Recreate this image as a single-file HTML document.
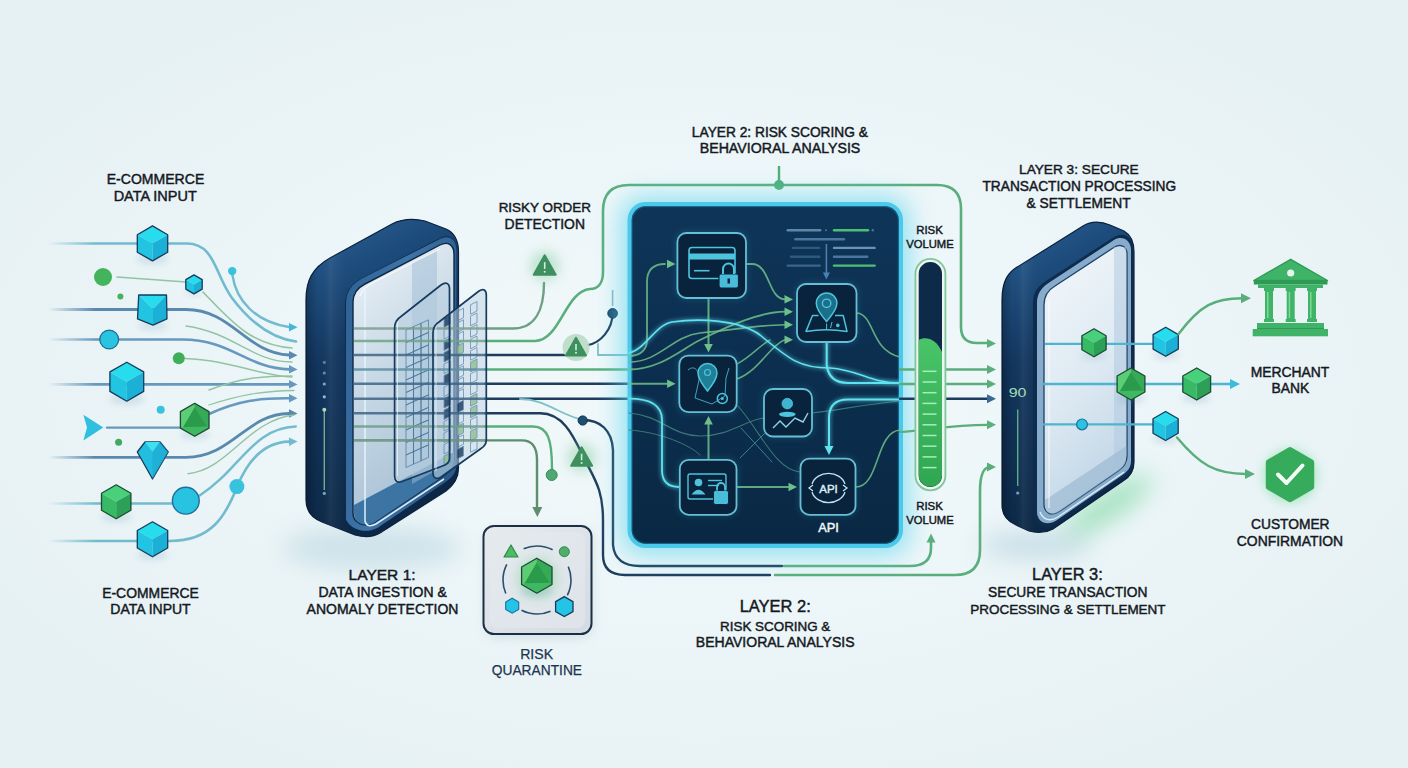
<!DOCTYPE html>
<html><head><meta charset="utf-8"><title>Fraud Prevention Layers</title>
<style>html,body{margin:0;padding:0;width:1408px;height:768px;overflow:hidden;background:#eaf2f5;font-family:"Liberation Sans",sans-serif}svg{display:block}</style>
</head><body><svg width="1408" height="768" viewBox="0 0 1408 768" font-family="Liberation Sans, sans-serif"><defs>
<radialGradient id="bg" cx="0.5" cy="0.5" r="0.6">
  <stop offset="0" stop-color="#f1f8fa"/><stop offset="0.45" stop-color="#edf6f8"/><stop offset="1" stop-color="#e6f1f4"/>
</radialGradient>
<filter id="blur3" x="-50%" y="-50%" width="200%" height="200%"><feGaussianBlur stdDeviation="3"/></filter>
<filter id="blur6" x="-100%" y="-100%" width="300%" height="300%"><feGaussianBlur stdDeviation="6"/></filter>
<filter id="blur12" x="-100%" y="-300%" width="300%" height="700%"><feGaussianBlur stdDeviation="12"/></filter>
<filter id="glow" x="-50%" y="-50%" width="200%" height="200%"><feGaussianBlur stdDeviation="2.2" result="b"/><feMerge><feMergeNode in="b"/><feMergeNode in="SourceGraphic"/></feMerge></filter>
<linearGradient id="fadeG" gradientUnits="userSpaceOnUse" x1="48" y1="0" x2="95" y2="0"><stop offset="0" stop-color="#fff" stop-opacity="0"/><stop offset="1" stop-color="#fff" stop-opacity="1"/></linearGradient>
<mask id="fadeL" maskUnits="userSpaceOnUse" x="0" y="0" width="1408" height="768"><rect x="0" y="0" width="1408" height="768" fill="url(#fadeG)"/></mask>
<linearGradient id="body1" x1="0" y1="0" x2="0.25" y2="1">
  <stop offset="0" stop-color="#2c6398"/><stop offset="0.22" stop-color="#1d4c7c"/><stop offset="0.45" stop-color="#12365f"/><stop offset="1" stop-color="#0c2846"/>
</linearGradient>
<linearGradient id="bodyH" x1="0" y1="0" x2="1" y2="0">
  <stop offset="0" stop-color="#000" stop-opacity="0.25"/><stop offset="0.08" stop-color="#000" stop-opacity="0"/><stop offset="0.16" stop-color="#fff" stop-opacity="0.06"/><stop offset="0.3" stop-color="#000" stop-opacity="0"/><stop offset="1" stop-color="#000" stop-opacity="0"/>
</linearGradient>
<linearGradient id="panelF" x1="0" y1="0" x2="0" y2="1">
  <stop offset="0" stop-color="#0e3558"/><stop offset="0.45" stop-color="#0c2f50"/><stop offset="1" stop-color="#092843"/>
</linearGradient>
<linearGradient id="rim1" x1="0" y1="0" x2="1" y2="0.4"><stop offset="0" stop-color="#2d5f92"/><stop offset="0.5" stop-color="#3f74a8"/><stop offset="1" stop-color="#2a5a8a"/></linearGradient>
<linearGradient id="glass1" x1="0" y1="0" x2="0.3" y2="1">
  <stop offset="0" stop-color="#eef4f9"/><stop offset="0.45" stop-color="#cbdbe7"/><stop offset="1" stop-color="#a9c2d6"/>
</linearGradient>
<linearGradient id="glass3" x1="0" y1="0" x2="0.3" y2="1">
  <stop offset="0" stop-color="#f3f8fb"/><stop offset="0.6" stop-color="#dde9f2"/><stop offset="1" stop-color="#c3d7e7"/>
</linearGradient>
<linearGradient id="pane" x1="0" y1="0" x2="1" y2="1">
  <stop offset="0" stop-color="#dbe8f2" stop-opacity="0.85"/><stop offset="1" stop-color="#a9c3d8" stop-opacity="0.8"/>
</linearGradient>
<linearGradient id="barfill" x1="0" y1="0" x2="0" y2="1">
  <stop offset="0" stop-color="#49c468"/><stop offset="1" stop-color="#2fa752"/>
</linearGradient>
<linearGradient id="quar" x1="0" y1="0" x2="1" y2="1">
  <stop offset="0" stop-color="#e6ebef"/><stop offset="1" stop-color="#d3dae1"/>
</linearGradient>
</defs><rect width="1408" height="768" fill="url(#bg)"/><g mask="url(#fadeL)"><path d="M50 243.5 H187 C215 243.5 215 275 232 298 C250 322 270 338 296 341.5" stroke="#72bbcf" stroke-width="2.6" fill="none" stroke-linecap="round" stroke-linejoin="round" /><path d="M232.4 275 C236 300 255 322 289 327" stroke="#72bbcf" stroke-width="2.4" fill="none" stroke-linecap="round" stroke-linejoin="round" /><polygon points="297.5,327.2 289.0,322.9 289.0,331.4" fill="#45b6d3"/><path d="M117 277 L186 282" stroke="#92c3a2" stroke-width="1.6" fill="none" stroke-linecap="round" stroke-linejoin="round" /><path d="M203 292 C230 320 250 345 292 348" stroke="#92c3a2" stroke-width="1.6" fill="none" stroke-linecap="round" stroke-linejoin="round" /><path d="M50 309.5 H186 C232 309.5 246 353 289 355" stroke="#5a89ae" stroke-width="2.8" fill="none" stroke-linecap="round" stroke-linejoin="round" /><polygon points="297.5,355.2 289.0,350.9 289.0,359.4" fill="#5a89ae"/><path d="M186 326 C235 333 252 362 292 362" stroke="#92c3a2" stroke-width="1.4" fill="none" stroke-linecap="round" stroke-linejoin="round" /><path d="M50 339.5 H182 C232 339.5 246 368 289 369.4" stroke="#6699bd" stroke-width="2.6" fill="none" stroke-linecap="round" stroke-linejoin="round" /><polygon points="297.5,369.4 289.0,365.1 289.0,373.6" fill="#6699bd"/><path d="M185 358.5 C228 360 262 376 292 377" stroke="#92c3a2" stroke-width="1.5" fill="none" stroke-linecap="round" stroke-linejoin="round" /><path d="M50 384.4 H289" stroke="#6699bd" stroke-width="2.8" fill="none" stroke-linecap="round" stroke-linejoin="round" /><polygon points="297.5,384.4 289.0,380.1 289.0,388.6" fill="#6699bd"/><path d="M209 390 C240 378 262 376 292 376" stroke="#92c3a2" stroke-width="1.4" fill="none" stroke-linecap="round" stroke-linejoin="round" /><path d="M209 414 C240 400 262 398 289 398.3" stroke="#6699bd" stroke-width="2.6" fill="none" stroke-linecap="round" stroke-linejoin="round" /><polygon points="297.5,398.3 289.0,394.1 289.0,402.6" fill="#6699bd"/><path d="M209 405 C240 395 262 391 294 390.5" stroke="#92c3a2" stroke-width="1.3" fill="none" stroke-linecap="round" stroke-linejoin="round" /><path d="M107 427.6 H180" stroke="#6699bd" stroke-width="2.4" fill="none" stroke-linecap="round" stroke-linejoin="round" /><path d="M50 457.3 H186 C232 457.3 246 414 289 413.5" stroke="#5a89ae" stroke-width="2.8" fill="none" stroke-linecap="round" stroke-linejoin="round" /><polygon points="297.5,413.5 289.0,409.2 289.0,417.8" fill="#5a89ae"/><path d="M188 473.7 C228 470 248 420 294 415" stroke="#92c3a2" stroke-width="1.4" fill="none" stroke-linecap="round" stroke-linejoin="round" /><path d="M199 496 C240 470 252 428 295.8 426.5" stroke="#72bbcf" stroke-width="2.4" fill="none" stroke-linecap="round" stroke-linejoin="round" /><path d="M50 503.5 H172" stroke="#72bbcf" stroke-width="2.4" fill="none" stroke-linecap="round" stroke-linejoin="round" /><path d="M170 541 C212 541 226 515 237 487 C250 455 268 442 289 441.6" stroke="#72bbcf" stroke-width="2.6" fill="none" stroke-linecap="round" stroke-linejoin="round" /><polygon points="297.5,441.6 289.0,437.4 289.0,445.9" fill="#72bbcf"/><path d="M50 541 H170" stroke="#72bbcf" stroke-width="2.4" fill="none" stroke-linecap="round" stroke-linejoin="round" /></g><circle cx="103" cy="277" r="9" fill="#43b35c" /><circle cx="120.4" cy="296.6" r="3" fill="#43b35c" /><circle cx="232.2" cy="271.1" r="4.2" fill="#39c2de" /><circle cx="178.8" cy="358.2" r="6" fill="#3fae58" /><circle cx="109.2" cy="339.5" r="9.4" fill="#2ac4e0" stroke="#1f6f96" stroke-width="1.3" /><circle cx="160.7" cy="409.8" r="4" fill="#39c2de" /><circle cx="118.6" cy="442.3" r="3.5" fill="#43a860" /><circle cx="185.8" cy="500.7" r="13.4" fill="#27c3e0" stroke="#1f6f96" stroke-width="1.4" /><circle cx="236.9" cy="486.6" r="7.5" fill="#39c2de" /><polygon points="83.4,414.7 103.3,427.5 83.4,440.4 87,427.5" fill="#2ec0de"/><ellipse cx="152.5" cy="259.15" rx="15.75" ry="5.25" fill="#5a8fb0" opacity="0.18" filter="url(#blur3)"/><polygon points="152.5,225.9 167.7,234.7 152.5,243.4 137.3,234.7" fill="#27dced"/><polygon points="137.3,234.7 152.5,243.4 152.5,260.9 137.3,252.2" fill="#21c4e1"/><polygon points="152.5,243.4 167.7,234.7 167.7,252.2 152.5,260.9" fill="#1cb0d6"/><polygon points="152.5,225.9 167.7,234.7 167.7,252.2 152.5,260.9 137.3,252.2 137.3,234.7" fill="none" stroke="#173b5c" stroke-width="1.3" stroke-linejoin="round"/><ellipse cx="194" cy="292.95" rx="8.55" ry="2.85" fill="#5a8fb0" opacity="0.18" filter="url(#blur3)"/><polygon points="194.0,274.9 202.2,279.6 194.0,284.4 185.8,279.6" fill="#27dced"/><polygon points="185.8,279.6 194.0,284.4 194.0,293.9 185.8,289.1" fill="#21c4e1"/><polygon points="194.0,284.4 202.2,279.6 202.2,289.1 194.0,293.9" fill="#1cb0d6"/><polygon points="194.0,274.9 202.2,279.6 202.2,289.1 194.0,293.9 185.8,289.1 185.8,279.6" fill="none" stroke="#173b5c" stroke-width="1.3" stroke-linejoin="round"/><ellipse cx="152.5" cy="326" rx="15" ry="4.5" fill="#5a8fb0" opacity="0.18" filter="url(#blur3)"/><polygon points="138.7,295 166.5,295 153,309 " fill="#27dced"/><polygon points="138.7,295 153,309 153,325.2 137.5,318.8" fill="#21c4e1"/><polygon points="166.5,295 167,318.8 153,325.2 153,309" fill="#1cb0d6"/><polygon points="138.7,295 166.5,295 167,318.8 153,325.2 137.5,318.8" fill="none" stroke="#173b5c" stroke-width="1.3" stroke-linejoin="round"/><ellipse cx="126.8" cy="399.25" rx="17.55" ry="5.85" fill="#5a8fb0" opacity="0.18" filter="url(#blur3)"/><polygon points="126.8,362.2 143.7,371.9 126.8,381.7 109.9,371.9" fill="#27dced"/><polygon points="109.9,371.9 126.8,381.7 126.8,401.2 109.9,391.4" fill="#21c4e1"/><polygon points="126.8,381.7 143.7,371.9 143.7,391.4 126.8,401.2" fill="#1cb0d6"/><polygon points="126.8,362.2 143.7,371.9 143.7,391.4 126.8,401.2 109.9,391.4 109.9,371.9" fill="none" stroke="#173b5c" stroke-width="1.3" stroke-linejoin="round"/><ellipse cx="194.7" cy="434.65000000000003" rx="14.85" ry="4.95" fill="#5a8fb0" opacity="0.18" filter="url(#blur3)"/><polygon points="194.7,403.3 209.0,411.6 209.0,428.1 194.7,436.3 180.4,428.1 180.4,411.6" fill="#40b862"/><polygon points="194.7,403.3 194.7,407.6 183.3,426.9 180.4,428.1 180.4,411.6" fill="#5ccd74"/><polygon points="194.7,403.3 209.0,411.6 209.0,428.1 206.9,426.4 194.7,407.6" fill="#36aa57"/><polygon points="194.7,407.6 206.9,426.4 183.3,426.9" fill="#2a9a4b"/><polygon points="194.7,403.3 209.0,411.6 209.0,428.1 194.7,436.3 180.4,428.1 180.4,411.6" fill="none" stroke="#1d4a35" stroke-width="1.3" stroke-linejoin="round"/><polygon points="137.3,452 145,442 160,442 168.2,452 152.5,479" fill="#23bedf" stroke="#173b5c" stroke-width="1.3" stroke-linejoin="round"/><polygon points="145,442 160,442 152.5,452" fill="#3fe0ee"/><polygon points="152.5,452 160,442 168.2,452 152.5,479" fill="#1aa6cf" opacity="0.6"/><ellipse cx="116.2" cy="517.1" rx="15.3" ry="5.1" fill="#5a8fb0" opacity="0.18" filter="url(#blur3)"/><polygon points="116.2,484.8 130.9,493.3 116.2,501.8 101.5,493.3" fill="#48d07a"/><polygon points="101.5,493.3 116.2,501.8 116.2,518.8 101.5,510.3" fill="#38ba64"/><polygon points="116.2,501.8 130.9,493.3 130.9,510.3 116.2,518.8" fill="#2ca056"/><polygon points="116.2,484.8 130.9,493.3 130.9,510.3 116.2,518.8 101.5,510.3 101.5,493.3" fill="none" stroke="#1d4a35" stroke-width="1.3" stroke-linejoin="round"/><ellipse cx="152.5" cy="555.05" rx="15.75" ry="5.25" fill="#5a8fb0" opacity="0.18" filter="url(#blur3)"/><polygon points="152.5,521.8 167.7,530.5 152.5,539.3 137.3,530.5" fill="#27dced"/><polygon points="137.3,530.5 152.5,539.3 152.5,556.8 137.3,548.0" fill="#21c4e1"/><polygon points="152.5,539.3 167.7,530.5 167.7,548.0 152.5,556.8" fill="#1cb0d6"/><polygon points="152.5,521.8 167.7,530.5 167.7,548.0 152.5,556.8 137.3,548.0 137.3,530.5" fill="none" stroke="#173b5c" stroke-width="1.3" stroke-linejoin="round"/><text x="155.5" y="184.1" font-size="14.05" fill="#15191f" stroke="#15191f" stroke-width="0.45" text-anchor="middle" >E-COMMERCE</text><text x="155.2" y="201" font-size="14.48" fill="#15191f" stroke="#15191f" stroke-width="0.45" text-anchor="middle" >DATA INPUT</text><text x="150.5" y="598" font-size="13.92" fill="#15191f" stroke="#15191f" stroke-width="0.45" text-anchor="middle" >E-COMMERCE</text><text x="150.5" y="614.4" font-size="14.0" fill="#15191f" stroke="#15191f" stroke-width="0.45" text-anchor="middle" >DATA INPUT</text><ellipse cx="372" cy="548" rx="90" ry="22" fill="#8ab8cc" opacity="0.3" filter="url(#blur12)"/><path d="M306 300 C306 281 312 268 330 258 L392 224 C402 219 412 218 425 221 L446 229 C455 233 458.5 240 458.5 252 L458.5 468 C458.5 478 454 485 446 491 L380 533 C372 538 363 537 355 535 L322 522 C312 518 306 511 306 500 Z" fill="url(#body1)" stroke="#0a2140" stroke-width="1.2"/><path d="M306 300 C306 281 312 268 330 258 L392 224 C402 219 412 218 425 221 L446 229 C455 233 458.5 240 458.5 252 L458.5 468 C458.5 478 454 485 446 491 L380 533 C372 538 363 537 355 535 L322 522 C312 518 306 511 306 500 Z" fill="url(#bodyH)"/><path d="M345 305 C345 291 351 284 362 278 L440 238 C450 233 457 239 457 251 L457 464 C457 472 453 477 446 482 L378 528 C366 535 350 531 345 520 Z" fill="#0f2c4e"/><path d="M346 304 C346 291 352 284 362 278.5 L440 239 C450 234 456.5 240 456.5 251 L456.5 464 C456.5 472 452.5 477 445.5 482 L378 527.5 C366 534.5 351 530 346 519.5 Z" fill="url(#rim1)"/><path d="M353 302 C353 293 357 288 365 284 L440 245 C448 241 454 245 454 254 L454 460 C454 467 451 471 445 475 L375 522 C364 528 353 523 353 513 Z" fill="url(#glass1)" stroke="#0d2845" stroke-width="1.4"/><path d="M354 505 L454 452 L454 460 C454 467 451 471 445 475 L375 522 C364 528 354 523 354 513 Z" fill="#3c74a4"/><path d="M412 263 L437 250 L437 470 L412 484 Z" fill="#9dbbd5" opacity="0.5"/><path d="M365 290 L365 521 C366 526 370 527 376 524 L444 479" stroke="#e6f5ff" stroke-width="1.5" fill="none" opacity="0.95"/><path d="M360 296 C362 289 368 285 376 281 L440 249" stroke="#ffffff" stroke-width="1.2" fill="none" opacity="0.7"/><circle cx="324.3" cy="362.4" r="1.6" fill="#9fc0d8" opacity="0.5"/><circle cx="324.3" cy="373" r="1.6" fill="#9fc0d8" opacity="0.6"/><circle cx="324.3" cy="384" r="1.6" fill="#9fc0d8" opacity="0.8"/><circle cx="324.3" cy="396.8" r="1.6" fill="#9fc0d8" opacity="0.95"/><line x1="324.3" y1="409.7" x2="324.3" y2="490" stroke="#6fae8c" stroke-width="1.4"/><circle cx="324.3" cy="409.7" r="2" fill="#a8d8b8" /><circle cx="324.3" cy="493.4" r="1.6" fill="#7d9fb8" /><path d="M485 328.5 H513 C535 328.5 544 310 544 283" stroke="#6f9f86" stroke-width="2.4" fill="none" stroke-linecap="round" stroke-linejoin="round" /><path d="M485 341 H535 C560 341 565 291 590 289 C599 289 603 282 603 272 V211 Q603 185 629 185 H937 Q961 185 961 209 V327 Q961 343 977 343 H988" stroke="#5aae7c" stroke-width="2.6" fill="none" stroke-linecap="round" stroke-linejoin="round" /><path d="M485 355 H565" stroke="#1e3d5e" stroke-width="2.4" fill="none" stroke-linecap="round" stroke-linejoin="round" /><path d="M588 345 C600 343 612.6 330 612.6 313" stroke="#1e3d5e" stroke-width="2.2" fill="none" stroke-linecap="round" stroke-linejoin="round" /><line x1="612.6" y1="290" x2="612.6" y2="306" stroke="#8fb3c2" stroke-width="1.6"/><path d="M598 344 V355 H628" stroke="#7cc0c8" stroke-width="1.8" fill="none" stroke-linecap="round" stroke-linejoin="round" /><path d="M485 369.5 H640" stroke="#5aae7c" stroke-width="2.6" fill="none" stroke-linecap="round" stroke-linejoin="round" /><path d="M485 383.8 H640" stroke="#1e3d5e" stroke-width="2.4" fill="none" stroke-linecap="round" stroke-linejoin="round" /><path d="M485 398.7 H640" stroke="#1e3d5e" stroke-width="2.4" fill="none" stroke-linecap="round" stroke-linejoin="round" /><path d="M520 399 C545 399 560 415 583 420" stroke="#7cc0c8" stroke-width="1.8" fill="none" stroke-linecap="round" stroke-linejoin="round" /><path d="M583 420 C600 420 612 430 613 450 V545 Q615 566 640 566 H782" stroke="#1e3d5e" stroke-width="2.4" fill="none" stroke-linecap="round" stroke-linejoin="round" /><path d="M784 566 H910 Q931 566 931 548 V542" stroke="#5aae7c" stroke-width="2.6" fill="none" stroke-linecap="round" stroke-linejoin="round" /><polygon points="931.0,533.5 926.5,542.5 935.5,542.5" fill="#5aae7c"/><path d="M485 413.2 H540 C565 413 575 440 585 460 C595 480 603 490 603 520 V555 Q603 575 625 575 H770" stroke="#1e3d5e" stroke-width="2.4" fill="none" stroke-linecap="round" stroke-linejoin="round" /><path d="M775 575 H955 Q980 575 980 550 V492 Q980 467 990 467" stroke="#5aae7c" stroke-width="2.6" fill="none" stroke-linecap="round" stroke-linejoin="round" /><polygon points="996.0,467.0 987.0,462.5 987.0,471.5" fill="#5aae7c"/><path d="M485 426.5 H533 C548 426.5 552 440 552 469" stroke="#5aae7c" stroke-width="2.4" fill="none" stroke-linecap="round" stroke-linejoin="round" /><circle cx="551.7" cy="475" r="5.5" fill="#4fa872" stroke="#3d8a5c" stroke-width="1" /><path d="M485 440.4 H522 C533 440.4 537 448 537 460 V507" stroke="#5d8f6e" stroke-width="2.4" fill="none" stroke-linecap="round" stroke-linejoin="round" /><polygon points="537.3,517.0 532.3,507.0 542.3,507.0" fill="#5d8f6e"/><circle cx="582.7" cy="420.5" r="4.6" fill="#1d4f73" stroke="#0f2d4f" stroke-width="1" /><circle cx="612.6" cy="313.4" r="4.8" fill="#1d4f73" stroke="#0f2d4f" stroke-width="1" /><circle cx="779" cy="185" r="5" fill="#4fae78" /><line x1="779" y1="166" x2="779" y2="185" stroke="#4fae78" stroke-width="2.4"/><polygon points="996.0,343.4 987.0,338.9 987.0,347.9" fill="#5aae7c"/><path d="M394.6 328 C394.6 322 397 319 401 316.5 L441 285 C446 281.5 449.5 283 449.5 289 L449.5 458 C449.5 462 448 463.5 445 465 L402 481.5 C397.5 483.5 394.6 481 394.6 476 Z" fill="#b7cde0" fill-opacity="0.55"/><path d="M433 333 C433 327 435.5 324 439 322 L479 291 C483.5 288 486.3 290 486.3 295 L486.3 440 C486.3 444 484.5 446.5 481 448.5 L441 477 C436.5 480 433 478 433 473 Z" fill="#c3d6e6" fill-opacity="0.55"/><polygon points="406.0,330.0 413.5,326.6 413.5,339.1 406.0,342.5" fill="none" stroke="#42719a" stroke-width="0.9" opacity="0.75"/><polygon points="413.5,326.6 421.0,323.2 421.0,335.8 413.5,339.1" fill="none" stroke="#42719a" stroke-width="0.9" opacity="0.75"/><polygon points="421.0,323.2 428.5,319.9 428.5,332.4 421.0,335.8" fill="none" stroke="#42719a" stroke-width="0.9" opacity="0.75"/><polygon points="406.0,342.5 413.5,339.1 413.5,351.6 406.0,355.0" fill="none" stroke="#42719a" stroke-width="0.9" opacity="0.75"/><polygon points="413.5,339.1 421.0,335.8 421.0,348.2 413.5,351.6" fill="none" stroke="#42719a" stroke-width="0.9" opacity="0.75"/><polygon points="421.0,335.8 428.5,332.4 428.5,344.9 421.0,348.2" fill="none" stroke="#42719a" stroke-width="0.9" opacity="0.75"/><polygon points="406.0,355.0 413.5,351.6 413.5,364.1 406.0,367.5" fill="none" stroke="#42719a" stroke-width="0.9" opacity="0.75"/><polygon points="413.5,351.6 421.0,348.2 421.0,360.8 413.5,364.1" fill="none" stroke="#42719a" stroke-width="0.9" opacity="0.75"/><polygon points="421.0,348.2 428.5,344.9 428.5,357.4 421.0,360.8" fill="none" stroke="#42719a" stroke-width="0.9" opacity="0.75"/><polygon points="406.0,367.5 413.5,364.1 413.5,376.6 406.0,380.0" fill="none" stroke="#42719a" stroke-width="0.9" opacity="0.75"/><polygon points="413.5,364.1 421.0,360.8 421.0,373.2 413.5,376.6" fill="none" stroke="#42719a" stroke-width="0.9" opacity="0.75"/><polygon points="421.0,360.8 428.5,357.4 428.5,369.9 421.0,373.2" fill="none" stroke="#42719a" stroke-width="0.9" opacity="0.75"/><polygon points="406.0,380.0 413.5,376.6 413.5,389.1 406.0,392.5" fill="none" stroke="#42719a" stroke-width="0.9" opacity="0.75"/><polygon points="413.5,376.6 421.0,373.2 421.0,385.8 413.5,389.1" fill="none" stroke="#42719a" stroke-width="0.9" opacity="0.75"/><polygon points="421.0,373.2 428.5,369.9 428.5,382.4 421.0,385.8" fill="none" stroke="#42719a" stroke-width="0.9" opacity="0.75"/><polygon points="406.0,392.5 413.5,389.1 413.5,401.6 406.0,405.0" fill="none" stroke="#42719a" stroke-width="0.9" opacity="0.75"/><polygon points="413.5,389.1 421.0,385.8 421.0,398.2 413.5,401.6" fill="none" stroke="#42719a" stroke-width="0.9" opacity="0.75"/><polygon points="421.0,385.8 428.5,382.4 428.5,394.9 421.0,398.2" fill="none" stroke="#42719a" stroke-width="0.9" opacity="0.75"/><polygon points="406.0,405.0 413.5,401.6 413.5,414.1 406.0,417.5" fill="none" stroke="#42719a" stroke-width="0.9" opacity="0.75"/><polygon points="413.5,401.6 421.0,398.2 421.0,410.8 413.5,414.1" fill="none" stroke="#42719a" stroke-width="0.9" opacity="0.75"/><polygon points="421.0,398.2 428.5,394.9 428.5,407.4 421.0,410.8" fill="none" stroke="#42719a" stroke-width="0.9" opacity="0.75"/><polygon points="406.0,417.5 413.5,414.1 413.5,426.6 406.0,430.0" fill="none" stroke="#42719a" stroke-width="0.9" opacity="0.75"/><polygon points="413.5,414.1 421.0,410.8 421.0,423.2 413.5,426.6" fill="none" stroke="#42719a" stroke-width="0.9" opacity="0.75"/><polygon points="421.0,410.8 428.5,407.4 428.5,419.9 421.0,423.2" fill="none" stroke="#42719a" stroke-width="0.9" opacity="0.75"/><polygon points="406.0,430.0 413.5,426.6 413.5,439.1 406.0,442.5" fill="none" stroke="#42719a" stroke-width="0.9" opacity="0.75"/><polygon points="413.5,426.6 421.0,423.2 421.0,435.8 413.5,439.1" fill="none" stroke="#42719a" stroke-width="0.9" opacity="0.75"/><polygon points="421.0,423.2 428.5,419.9 428.5,432.4 421.0,435.8" fill="none" stroke="#42719a" stroke-width="0.9" opacity="0.75"/><polygon points="406.0,442.5 413.5,439.1 413.5,451.6 406.0,455.0" fill="none" stroke="#42719a" stroke-width="0.9" opacity="0.75"/><polygon points="413.5,439.1 421.0,435.8 421.0,448.2 413.5,451.6" fill="none" stroke="#42719a" stroke-width="0.9" opacity="0.75"/><polygon points="421.0,435.8 428.5,432.4 428.5,444.9 421.0,448.2" fill="none" stroke="#42719a" stroke-width="0.9" opacity="0.75"/><polygon points="406.0,455.0 413.5,451.6 413.5,464.1 406.0,467.5" fill="none" stroke="#42719a" stroke-width="0.9" opacity="0.75"/><polygon points="413.5,451.6 421.0,448.2 421.0,460.8 413.5,464.1" fill="none" stroke="#42719a" stroke-width="0.9" opacity="0.75"/><polygon points="421.0,448.2 428.5,444.9 428.5,457.4 421.0,460.8" fill="none" stroke="#42719a" stroke-width="0.9" opacity="0.75"/><polygon points="444.0,318.0 450.5,314.8 450.5,324.2 444.0,327.5" fill="#17395c" stroke="#5a85a8" stroke-width="0.9" opacity="0.8"/><polygon points="457.0,311.5 463.5,308.2 463.5,317.8 457.0,321.0" fill="none" stroke="#5a85a8" stroke-width="0.9" opacity="0.8"/><polygon points="470.5,304.8 477.0,301.5 477.0,311.0 470.5,314.2" fill="none" stroke="#5a85a8" stroke-width="0.9" opacity="0.8"/><polygon points="444.0,329.5 450.5,326.2 450.5,335.8 444.0,339.0" fill="none" stroke="#5a85a8" stroke-width="0.9" opacity="0.8"/><polygon points="457.0,323.0 463.5,319.8 463.5,329.2 457.0,332.5" fill="none" stroke="#5a85a8" stroke-width="0.9" opacity="0.8"/><polygon points="470.5,316.2 477.0,313.0 477.0,322.5 470.5,325.8" fill="none" stroke="#5a85a8" stroke-width="0.9" opacity="0.8"/><polygon points="444.0,341.0 450.5,337.8 450.5,347.2 444.0,350.5" fill="#17395c" stroke="#5a85a8" stroke-width="0.9" opacity="0.8"/><polygon points="457.0,334.5 463.5,331.2 463.5,340.8 457.0,344.0" fill="none" stroke="#5a85a8" stroke-width="0.9" opacity="0.8"/><polygon points="470.5,327.8 477.0,324.5 477.0,334.0 470.5,337.2" fill="none" stroke="#5a85a8" stroke-width="0.9" opacity="0.8"/><polygon points="444.0,352.5 450.5,349.2 450.5,358.8 444.0,362.0" fill="#17395c" stroke="#5a85a8" stroke-width="0.9" opacity="0.8"/><polygon points="457.0,346.0 463.5,342.8 463.5,352.2 457.0,355.5" fill="#8fbf8f" stroke="#5a85a8" stroke-width="0.9" opacity="0.8"/><polygon points="470.5,339.2 477.0,336.0 477.0,345.5 470.5,348.8" fill="none" stroke="#5a85a8" stroke-width="0.9" opacity="0.8"/><polygon points="444.0,364.0 450.5,360.8 450.5,370.2 444.0,373.5" fill="none" stroke="#5a85a8" stroke-width="0.9" opacity="0.8"/><polygon points="457.0,357.5 463.5,354.2 463.5,363.8 457.0,367.0" fill="none" stroke="#5a85a8" stroke-width="0.9" opacity="0.8"/><polygon points="470.5,350.8 477.0,347.5 477.0,357.0 470.5,360.2" fill="none" stroke="#5a85a8" stroke-width="0.9" opacity="0.8"/><polygon points="444.0,375.5 450.5,372.2 450.5,381.8 444.0,385.0" fill="#17395c" stroke="#5a85a8" stroke-width="0.9" opacity="0.8"/><polygon points="457.0,369.0 463.5,365.8 463.5,375.2 457.0,378.5" fill="none" stroke="#5a85a8" stroke-width="0.9" opacity="0.8"/><polygon points="470.5,362.2 477.0,359.0 477.0,368.5 470.5,371.8" fill="#8fbf8f" stroke="#5a85a8" stroke-width="0.9" opacity="0.8"/><polygon points="444.0,387.0 450.5,383.8 450.5,393.2 444.0,396.5" fill="none" stroke="#5a85a8" stroke-width="0.9" opacity="0.8"/><polygon points="457.0,380.5 463.5,377.2 463.5,386.8 457.0,390.0" fill="none" stroke="#5a85a8" stroke-width="0.9" opacity="0.8"/><polygon points="470.5,373.8 477.0,370.5 477.0,380.0 470.5,383.2" fill="none" stroke="#5a85a8" stroke-width="0.9" opacity="0.8"/><polygon points="444.0,398.5 450.5,395.2 450.5,404.8 444.0,408.0" fill="#17395c" stroke="#5a85a8" stroke-width="0.9" opacity="0.8"/><polygon points="457.0,392.0 463.5,388.8 463.5,398.2 457.0,401.5" fill="none" stroke="#5a85a8" stroke-width="0.9" opacity="0.8"/><polygon points="470.5,385.2 477.0,382.0 477.0,391.5 470.5,394.8" fill="none" stroke="#5a85a8" stroke-width="0.9" opacity="0.8"/><polygon points="444.0,410.0 450.5,406.8 450.5,416.2 444.0,419.5" fill="#17395c" stroke="#5a85a8" stroke-width="0.9" opacity="0.8"/><polygon points="457.0,403.5 463.5,400.2 463.5,409.8 457.0,413.0" fill="#17395c" stroke="#5a85a8" stroke-width="0.9" opacity="0.8"/><polygon points="470.5,396.8 477.0,393.5 477.0,403.0 470.5,406.2" fill="#8fbf8f" stroke="#5a85a8" stroke-width="0.9" opacity="0.8"/><polygon points="444.0,421.5 450.5,418.2 450.5,427.8 444.0,431.0" fill="none" stroke="#5a85a8" stroke-width="0.9" opacity="0.8"/><polygon points="457.0,415.0 463.5,411.8 463.5,421.2 457.0,424.5" fill="none" stroke="#5a85a8" stroke-width="0.9" opacity="0.8"/><polygon points="470.5,408.2 477.0,405.0 477.0,414.5 470.5,417.8" fill="#8fbf8f" stroke="#5a85a8" stroke-width="0.9" opacity="0.8"/><polygon points="444.0,433.0 450.5,429.8 450.5,439.2 444.0,442.5" fill="none" stroke="#5a85a8" stroke-width="0.9" opacity="0.8"/><polygon points="457.0,426.5 463.5,423.2 463.5,432.8 457.0,436.0" fill="#8fbf8f" stroke="#5a85a8" stroke-width="0.9" opacity="0.8"/><polygon points="470.5,419.8 477.0,416.5 477.0,426.0 470.5,429.2" fill="none" stroke="#5a85a8" stroke-width="0.9" opacity="0.8"/><polygon points="444.0,444.5 450.5,441.2 450.5,450.8 444.0,454.0" fill="none" stroke="#5a85a8" stroke-width="0.9" opacity="0.8"/><polygon points="457.0,438.0 463.5,434.8 463.5,444.2 457.0,447.5" fill="none" stroke="#5a85a8" stroke-width="0.9" opacity="0.8"/><polygon points="470.5,431.2 477.0,428.0 477.0,437.5 470.5,440.8" fill="#8fbf8f" stroke="#5a85a8" stroke-width="0.9" opacity="0.8"/><polygon points="444.0,456.0 450.5,452.8 450.5,462.2 444.0,465.5" fill="#8fbf8f" stroke="#5a85a8" stroke-width="0.9" opacity="0.8"/><polygon points="457.0,449.5 463.5,446.2 463.5,455.8 457.0,459.0" fill="#17395c" stroke="#5a85a8" stroke-width="0.9" opacity="0.8"/><polygon points="470.5,442.8 477.0,439.5 477.0,449.0 470.5,452.2" fill="none" stroke="#5a85a8" stroke-width="0.9" opacity="0.8"/><line x1="354" y1="328.5" x2="487" y2="328.5" stroke="#7d9f8e" stroke-width="2.6" opacity="0.85"/><line x1="354" y1="341" x2="487" y2="341" stroke="#6fa488" stroke-width="2.6" opacity="0.85"/><line x1="354" y1="355" x2="487" y2="355" stroke="#3f6586" stroke-width="2.6" opacity="0.85"/><line x1="354" y1="369.5" x2="487" y2="369.5" stroke="#5d8fa0" stroke-width="2.6" opacity="0.85"/><line x1="354" y1="383.8" x2="487" y2="383.8" stroke="#3f6586" stroke-width="2.6" opacity="0.85"/><line x1="354" y1="398.7" x2="487" y2="398.7" stroke="#3f6586" stroke-width="2.6" opacity="0.85"/><line x1="354" y1="413.2" x2="487" y2="413.2" stroke="#3f6586" stroke-width="2.6" opacity="0.85"/><line x1="354" y1="426.5" x2="487" y2="426.5" stroke="#6f9e8a" stroke-width="2.6" opacity="0.85"/><line x1="354" y1="440.4" x2="487" y2="440.4" stroke="#6a9480" stroke-width="2.6" opacity="0.85"/><path d="M394.6 328 C394.6 322 397 319 401 316.5 L441 285 C446 281.5 449.5 283 449.5 289 L449.5 458 C449.5 462 448 463.5 445 465 L402 481.5 C397.5 483.5 394.6 481 394.6 476 Z" fill="none" stroke="#173b5c" stroke-width="1.7"/><path d="M433 333 C433 327 435.5 324 439 322 L479 291 C483.5 288 486.3 290 486.3 295 L486.3 440 C486.3 444 484.5 446.5 481 448.5 L441 477 C436.5 480 433 478 433 473 Z" fill="none" stroke="#173b5c" stroke-width="1.7"/><path d="M397.5 322 V476" stroke="#ffffff" stroke-width="1" opacity="0.6"/><path d="M436 327 V471" stroke="#ffffff" stroke-width="1" opacity="0.6"/><circle cx="544.7" cy="266" r="15" fill="#6cc28a" opacity="0.35" filter="url(#blur6)"/><path d="M544.7 255.352 L555.7 274.712 L533.7 274.712 Z" fill="#3f8f5f" stroke="#3f8f5f" stroke-width="2" stroke-linejoin="round"/><line x1="544.7" y1="262.128" x2="544.7" y2="268.904" stroke="#cfeedd" stroke-width="1.6"/><circle cx="544.7" cy="271.808" r="1" fill="#cfeedd"/><circle cx="576" cy="347.5" r="13.5" fill="#b9dcc4" opacity="0.9"/><path d="M576 337.82 L586.0 355.42 L566.0 355.42 Z" fill="#3f8f5f" stroke="#3f8f5f" stroke-width="2" stroke-linejoin="round"/><line x1="576" y1="343.98" x2="576" y2="350.14" stroke="#cfeedd" stroke-width="1.6"/><circle cx="576" cy="352.78" r="1" fill="#cfeedd"/><circle cx="581.6" cy="457.5" r="15" fill="#6cc28a" opacity="0.35" filter="url(#blur6)"/><path d="M581.6 447.336 L592.1 465.816 L571.1 465.816 Z" fill="#3f8f5f" stroke="#3f8f5f" stroke-width="2" stroke-linejoin="round"/><line x1="581.6" y1="453.804" x2="581.6" y2="460.272" stroke="#cfeedd" stroke-width="1.6"/><circle cx="581.6" cy="463.044" r="1" fill="#cfeedd"/><rect x="486" y="529" width="106" height="108" rx="11" fill="#9fb4c4" opacity="0.35" filter="url(#blur6)"/><rect x="483.5" y="526" width="108" height="108" rx="10.5" fill="url(#quar)" stroke="#1b2f45" stroke-width="2"/><rect x="490" y="532" width="95" height="96" rx="8" fill="#e4e9ee" opacity="0.6"/><circle cx="537" cy="580" r="34" fill="none" stroke="#2b4f6e" stroke-width="1.6" stroke-dasharray="30 23.4" stroke-dashoffset="14"/><circle cx="537" cy="578" r="20" fill="#5fd07a" opacity="0.35" filter="url(#blur6)"/><ellipse cx="536.8" cy="591.45" rx="15.75" ry="5.25" fill="#5a8fb0" opacity="0.18" filter="url(#blur3)"/><polygon points="536.8,558.2 552.0,567.0 552.0,584.5 536.8,593.2 521.6,584.5 521.6,567.0" fill="#40b862"/><polygon points="536.8,558.2 536.8,562.8 524.7,583.2 521.6,584.5 521.6,567.0" fill="#5ccd74"/><polygon points="536.8,558.2 552.0,567.0 552.0,584.5 549.8,582.7 536.8,562.8" fill="#36aa57"/><polygon points="536.8,562.8 549.8,582.7 524.7,583.2" fill="#2a9a4b"/><polygon points="536.8,558.2 552.0,567.0 552.0,584.5 536.8,593.2 521.6,584.5 521.6,567.0" fill="none" stroke="#1d4a35" stroke-width="1.3" stroke-linejoin="round"/><path d="M511 545 L518 557 L504 557 Z" fill="#4cbb66" stroke="#2f8a4a" stroke-width="1.2" stroke-linejoin="round"/><circle cx="564.3" cy="551.7" r="5" fill="#4fae6c" stroke="#2f8a4a" stroke-width="1" /><polygon points="512.2,598.2 518.7,602.0 518.7,609.5 512.2,613.2 505.7,609.5 505.7,602.0" fill="#24c4e6" stroke="#1a6f9a" stroke-width="1.1"/><polygon points="564.3,596.6 573.0,601.6 573.0,611.6 564.3,616.6 555.6,611.6 555.6,601.6" fill="#24c4e6" stroke="#173b5c" stroke-width="1.3"/><text x="536.6" y="658.9" font-size="14.12" fill="#1c3550" font-weight="normal" text-anchor="middle" stroke="#1c3550" stroke-width="0.25">RISK</text><text x="536.9" y="675.3" font-size="13.77" fill="#1c3550" font-weight="normal" text-anchor="middle" stroke="#1c3550" stroke-width="0.25">QUARANTINE</text><rect x="620" y="196" width="290" height="360" rx="22" fill="#5fd6ee" opacity="0.62" filter="url(#blur12)"/><rect x="629.6" y="204.1" width="271.3" height="341.8" rx="16" fill="url(#panelF)" stroke="#4ac9ea" stroke-width="4.2"/><rect x="632.2" y="206.7" width="266.1" height="336.6" rx="14" fill="none" stroke="#1e6f96" stroke-width="1.2" opacity="0.6"/><path d="M629 413 C660 415 672 436 700 436 C730 436 745 420 764 418" stroke="#3f7f7a" stroke-width="1.2" fill="none" stroke-linecap="round" stroke-linejoin="round" opacity="0.9"/><path d="M741 428 L772 462" stroke="#3f8aa0" stroke-width="1.0" fill="none" stroke-linecap="round" stroke-linejoin="round" opacity="0.9"/><path d="M768 430 L740 458" stroke="#3f8aa0" stroke-width="1.0" fill="none" stroke-linecap="round" stroke-linejoin="round" opacity="0.9"/><path d="M737 405 C760 430 775 470 800 472" stroke="#3f7f7a" stroke-width="1.1" fill="none" stroke-linecap="round" stroke-linejoin="round" opacity="0.9"/><path d="M812 413 C840 410 860 405 900 401" stroke="#3f7f7a" stroke-width="1.2" fill="none" stroke-linecap="round" stroke-linejoin="round" opacity="0.9"/><path d="M629 430 C660 432 690 445 700 455" stroke="#3f7f7a" stroke-width="1.0" fill="none" stroke-linecap="round" stroke-linejoin="round" opacity="0.9"/><path d="M629 369.5 C660 369.5 680 350 700 340 C730 325 760 312 785 311.7" stroke="#6fbf8a" stroke-width="1.8" fill="none" stroke-linecap="round" stroke-linejoin="round" opacity="0.85"/><path d="M629 362 C660 362 672 336 700 333 C740 329 760 325 785 324.7" stroke="#6fbf8a" stroke-width="1.6" fill="none" stroke-linecap="round" stroke-linejoin="round" opacity="0.85"/><path d="M737 379 C760 370 770 345 785 339.8" stroke="#6fbf8a" stroke-width="1.6" fill="none" stroke-linecap="round" stroke-linejoin="round" opacity="0.85"/><path d="M737 364 C752 356 760 345 770 340" stroke="#6fbf8a" stroke-width="1.4" fill="none" stroke-linecap="round" stroke-linejoin="round" opacity="0.85"/><path d="M629 383.8 H667" stroke="#6fbf8a" stroke-width="2" fill="none" stroke-linecap="round" stroke-linejoin="round" opacity="0.85"/><path d="M629 356 C640 356 647 350 647 340 V282 Q647 264 665 264" stroke="#6fbf8a" stroke-width="1.8" fill="none" stroke-linecap="round" stroke-linejoin="round" opacity="0.85"/><path d="M746 264 H752 C770 264 768 299 785 299.4" stroke="#6fbf8a" stroke-width="1.8" fill="none" stroke-linecap="round" stroke-linejoin="round" opacity="0.85"/><path d="M708.5 298 V345" stroke="#6fbf8a" stroke-width="2" fill="none" stroke-linecap="round" stroke-linejoin="round" opacity="0.85"/><path d="M708.5 460 V424" stroke="#6fbf8a" stroke-width="2" fill="none" stroke-linecap="round" stroke-linejoin="round" opacity="0.85"/><path d="M736.5 487 H789" stroke="#6fbf8a" stroke-width="2" fill="none" stroke-linecap="round" stroke-linejoin="round" opacity="0.85"/><path d="M857 313 C875 315 870 350 900 357" stroke="#6fbf8a" stroke-width="1.6" fill="none" stroke-linecap="round" stroke-linejoin="round" opacity="0.85"/><path d="M855.5 487 C880 487 875 432 900 430" stroke="#6fbf8a" stroke-width="1.6" fill="none" stroke-linecap="round" stroke-linejoin="round" opacity="0.85"/><path d="M629 353 C645 350 655 325 672 322 C700 318 740 320 760 335 C790 360 800 368 830 368 C860 370 870 383 900 383" stroke="#5fe3f0" stroke-width="1.6" fill="none" stroke-linecap="round" stroke-linejoin="round" filter="url(#glow)"/><path d="M826.7 342 V365 Q829 383 848 383 H900" stroke="#5fe3f0" stroke-width="2" fill="none" stroke-linecap="round" stroke-linejoin="round" filter="url(#glow)"/><path d="M900 399.6 H848 Q829 399.6 829 418 V447" stroke="#5fe3f0" stroke-width="2" fill="none" stroke-linecap="round" stroke-linejoin="round" filter="url(#glow)"/><path d="M629 398.7 C650 398.7 662 405 662 420 V470 Q662 487 679 487" stroke="#5fe3f0" stroke-width="1.8" fill="none" stroke-linecap="round" stroke-linejoin="round" filter="url(#glow)"/><polygon points="675.5,264.0 667.0,259.8 667.0,268.2" fill="#6fbf8a"/><polygon points="793.0,299.4 784.5,295.1 784.5,303.6" fill="#6fbf8a"/><polygon points="793.0,311.7 784.5,307.4 784.5,315.9" fill="#6fbf8a"/><polygon points="793.0,324.7 784.5,320.4 784.5,328.9" fill="#6fbf8a"/><polygon points="793.0,339.8 784.5,335.6 784.5,344.1" fill="#6fbf8a"/><polygon points="675.6,383.8 667.1,379.6 667.1,388.1" fill="#6fbf8a"/><polygon points="708.5,352.5 704.2,344.0 712.8,344.0" fill="#6fbf8a"/><polygon points="708.5,416.0 704.2,424.5 712.8,424.5" fill="#6fbf8a"/><polygon points="797.0,487.0 788.5,482.8 788.5,491.2" fill="#6fbf8a"/><polygon points="829.0,455.0 824.5,446.0 833.5,446.0" fill="#5fe3f0"/><polygon points="826.4,279.5 822.9,272.5 829.9,272.5" fill="#4a7fb0"/><line x1="826.4" y1="244" x2="826.4" y2="273" stroke="#4a7fb0" stroke-width="1.6"/><line x1="787.7" y1="230.2" x2="820.2" y2="230.2" stroke="#5d86a8" stroke-width="2.4" stroke-linecap="round"/><line x1="834" y1="230.2" x2="868" y2="230.2" stroke="#4fbf74" stroke-width="2.4" stroke-linecap="round"/><line x1="795.4" y1="239.2" x2="844" y2="239.2" stroke="#4a77a0" stroke-width="2.4" stroke-linecap="round"/><line x1="793" y1="247.9" x2="819.3" y2="247.9" stroke="#2f5a80" stroke-width="2.4" stroke-linecap="round"/><line x1="834" y1="247.9" x2="874.6" y2="247.9" stroke="#6a93b5" stroke-width="2.4" stroke-linecap="round"/><line x1="791" y1="256.7" x2="819.3" y2="256.7" stroke="#2f5a80" stroke-width="2.4" stroke-linecap="round"/><line x1="834" y1="256.7" x2="867.3" y2="256.7" stroke="#4a77a0" stroke-width="2.4" stroke-linecap="round"/><line x1="787.7" y1="265.6" x2="819.7" y2="265.6" stroke="#3a658c" stroke-width="2.4" stroke-linecap="round"/><line x1="834" y1="265.6" x2="874.6" y2="265.6" stroke="#4fbf74" stroke-width="2.4" stroke-linecap="round"/><circle cx="826" cy="230.2" r="1" fill="#4a77a0" /><circle cx="872.8" cy="230.2" r="1.2" fill="#4a77a0" /><rect x="675.4" y="231" width="72.60000000000002" height="69" rx="11" fill="#3fb7d6" opacity="0.18" filter="url(#blur3)"/><rect x="677.4" y="233" width="68.60000000000002" height="65" rx="9" fill="#0a233c" stroke="#66bfd4" stroke-width="1.8"/><rect x="795" y="282" width="63.5" height="62" rx="11" fill="#3fb7d6" opacity="0.18" filter="url(#blur3)"/><rect x="797" y="284" width="59.5" height="58" rx="9" fill="#0a233c" stroke="#66bfd4" stroke-width="1.8"/><rect x="677.3" y="353.6" width="61.40000000000009" height="60.5" rx="11" fill="#3fb7d6" opacity="0.18" filter="url(#blur3)"/><rect x="679.3" y="355.6" width="57.40000000000009" height="56.5" rx="9" fill="#0a233c" stroke="#66bfd4" stroke-width="1.8"/><rect x="762" y="387" width="52" height="51.5" rx="11" fill="#3fb7d6" opacity="0.18" filter="url(#blur3)"/><rect x="764" y="389" width="48" height="47.5" rx="9" fill="#0a233c" stroke="#66bfd4" stroke-width="1.8"/><rect x="677.8" y="457.8" width="60.700000000000045" height="58.99999999999994" rx="11" fill="#3fb7d6" opacity="0.18" filter="url(#blur3)"/><rect x="679.8" y="459.8" width="56.700000000000045" height="54.99999999999994" rx="9" fill="#0a233c" stroke="#66bfd4" stroke-width="1.8"/><rect x="798.5" y="456.6" width="59.0" height="60.19999999999993" rx="11" fill="#3fb7d6" opacity="0.18" filter="url(#blur3)"/><rect x="800.5" y="458.6" width="55.0" height="56.19999999999993" rx="9" fill="#0a233c" stroke="#66bfd4" stroke-width="1.8"/><rect x="689" y="247.5" width="46" height="31" rx="3" fill="none" stroke="#4ec3dc" stroke-width="1.6"/><rect x="689" y="253.5" width="46" height="6" fill="#4ec3dc"/><line x1="694" y1="270.7" x2="709.5" y2="270.7" stroke="#4ec3dc" stroke-width="1.6"/><rect x="719" y="274" width="19.5" height="14" rx="2" fill="#48bcd8" stroke="#0b2540" stroke-width="1.2"/><path d="M723 274 V269 A5.5 5.5 0 0 1 734 269 V274" fill="none" stroke="#4ec3dc" stroke-width="2"/><rect x="727.5" y="278.5" width="2.5" height="5" fill="#0b2540"/><path d="M818.5 315.5 H812.5 L806 331.4 Q826 328 847 331.4 L843.2 315.5 H835" fill="none" stroke="#4ec3dc" stroke-width="1.5" stroke-linejoin="round"/><path d="M826.6 321.4 C819 313 816.3 308.5 816.3 303.3 A10.3 10.3 0 0 1 836.9 303.3 C836.9 308.5 834 313 826.6 321.4 Z" fill="#1b6f88" stroke="#4ec3dc" stroke-width="1.5"/><circle cx="826.6" cy="303.3" r="4.2" fill="none" stroke="#4ec3dc" stroke-width="1.4"/><path d="M826.6 323.5 V330 M832 322 L830.5 328" stroke="#4ec3dc" stroke-width="1" fill="none"/><circle cx="837.8" cy="325.4" r="1.8" fill="#4ec3dc"/><path d="M688 370 C695 364 700 372 699 380 L695 398 L712 404 L725 396 L726 378 L729 368" fill="none" stroke="#4ec3dc" stroke-width="1" opacity="0.8"/><path d="M707.5 391 C701 383 698 378 698 373 A9.5 9.5 0 0 1 717 373 C717 378 714 383 707.5 391 Z" fill="#1f7f97" stroke="#4ec3dc" stroke-width="1.5"/><circle cx="707.5" cy="372.5" r="3" fill="none" stroke="#4ec3dc" stroke-width="1.2"/><circle cx="722.3" cy="398.5" r="5" fill="none" stroke="#4ec3dc" stroke-width="1.5"/><circle cx="722.3" cy="398.5" r="1.5" fill="#4ec3dc"/><circle cx="787.3" cy="403.6" r="5.3" fill="#3fb3cf" stroke="#4ec3dc" stroke-width="0.8"/><ellipse cx="787.3" cy="414.3" rx="8.3" ry="2.6" fill="#4ec3dc"/><path d="M773 428 L780 421 L786 427 L795 418 L803 422 L808 413" fill="none" stroke="#8fd8ea" stroke-width="1.4"/><rect x="688" y="474" width="38" height="25" rx="2" fill="none" stroke="#4ec3dc" stroke-width="1.4"/><circle cx="698.5" cy="482.5" r="3.8" fill="#4ec3dc"/><path d="M691.5 494.5 Q698.5 485 705.5 494.5 Z" fill="#4ec3dc"/><line x1="708" y1="480.5" x2="722" y2="480.5" stroke="#4ec3dc" stroke-width="1.4"/><line x1="708" y1="485.5" x2="719" y2="485.5" stroke="#4ec3dc" stroke-width="1.4"/><rect x="713.5" y="490.5" width="15" height="14" rx="2" fill="#48bcd8" stroke="#0b2540" stroke-width="1"/><path d="M717 490.5 V487 A4 4 0 0 1 725 487 V490.5" fill="none" stroke="#4ec3dc" stroke-width="1.8"/><path d="M812 484 A17 14 0 0 1 845 484 M845 492 A17 14 0 0 1 812 492" fill="none" stroke="#bfe3ee" stroke-width="1.3"/><path d="M813 485 L809 488 L813 491 M843 485 L847 488 L843 491" fill="none" stroke="#bfe3ee" stroke-width="1.3"/><text x="828.5" y="492.8" font-size="11.5" fill="#d8eef5" stroke="#d8eef5" stroke-width="0.45" text-anchor="middle" >API</text><text x="828.6" y="532.4" font-size="12.8" fill="#f2f7fa" stroke="#f2f7fa" stroke-width="0.45" text-anchor="middle" >API</text><path d="M900 369.5 H988" stroke="#5aae7c" stroke-width="2.4" fill="none" stroke-linecap="round" stroke-linejoin="round" /><polygon points="996.0,369.5 987.0,365.0 987.0,374.0" fill="#5aae7c"/><path d="M900 384 H988" stroke="#5aae7c" stroke-width="2.4" fill="none" stroke-linecap="round" stroke-linejoin="round" /><polygon points="996.0,384.0 987.0,379.5 987.0,388.5" fill="#5aae7c"/><path d="M900 398.8 H988" stroke="#1e3d5e" stroke-width="2.4" fill="none" stroke-linecap="round" stroke-linejoin="round" /><polygon points="996.0,398.8 987.0,394.3 987.0,403.3" fill="#3a6a93"/><path d="M900 432 C930 430 950 425 988 424.8" stroke="#5aae7c" stroke-width="2.2" fill="none" stroke-linecap="round" stroke-linejoin="round" /><polygon points="996.0,424.8 987.0,420.3 987.0,429.3" fill="#5aae7c"/><rect x="915.4" y="258.9" width="30" height="231.5" rx="15" fill="#eef6f2" stroke="#7fc79a" stroke-width="1.8"/><rect x="918.7" y="262" width="23.3" height="225" rx="11.6" fill="#0d2a48"/><path d="M918.7 340 C925 336 936 338 942 352 L942 475 A11.6 11.6 0 0 1 918.7 475 Z" fill="url(#barfill)"/><line x1="922.5" y1="371.3" x2="936.5" y2="371.3" stroke="#a8ecbc" stroke-width="1.5"/><line x1="922.5" y1="382.0" x2="936.5" y2="382.0" stroke="#a8ecbc" stroke-width="1.5"/><line x1="922.5" y1="392.7" x2="936.5" y2="392.7" stroke="#a8ecbc" stroke-width="1.5"/><line x1="922.5" y1="403.4" x2="936.5" y2="403.4" stroke="#a8ecbc" stroke-width="1.5"/><line x1="922.5" y1="414.1" x2="936.5" y2="414.1" stroke="#a8ecbc" stroke-width="1.5"/><line x1="922.5" y1="424.8" x2="936.5" y2="424.8" stroke="#a8ecbc" stroke-width="1.5"/><line x1="922.5" y1="435.5" x2="936.5" y2="435.5" stroke="#a8ecbc" stroke-width="1.5"/><line x1="922.5" y1="446.2" x2="936.5" y2="446.2" stroke="#a8ecbc" stroke-width="1.5"/><line x1="922.5" y1="456.9" x2="936.5" y2="456.9" stroke="#a8ecbc" stroke-width="1.5"/><line x1="922.5" y1="467.6" x2="936.5" y2="467.6" stroke="#a8ecbc" stroke-width="1.5"/><text x="929.5" y="234.2" font-size="11.44" fill="#15191f" stroke="#15191f" stroke-width="0.45" text-anchor="middle" >RISK</text><text x="930" y="247.9" font-size="11.22" fill="#15191f" stroke="#15191f" stroke-width="0.45" text-anchor="middle" >VOLUME</text><text x="929.5" y="510.2" font-size="11.44" fill="#15191f" stroke="#15191f" stroke-width="0.45" text-anchor="middle" >RISK</text><text x="930" y="523.8" font-size="11.22" fill="#15191f" stroke="#15191f" stroke-width="0.45" text-anchor="middle" >VOLUME</text><ellipse cx="1108" cy="506" rx="52" ry="13" fill="#5fd08a" opacity="0.55" transform="rotate(-34 1108 506)" filter="url(#blur12)"/><ellipse cx="1035" cy="545" rx="55" ry="13" fill="#7fb0c6" opacity="0.35" filter="url(#blur12)"/><path d="M1002 300 C1002 281 1008 272 1019 266 L1083 226 C1091 221 1100 221 1110 225 L1124 231 C1131 235 1134 242 1134 252 L1134 462 C1134 471 1130 477 1123 481 L1053 529 C1046 533 1036 533 1029 531 L1016 525 C1007 521 1002 515 1002 505 Z" fill="url(#body1)" stroke="#0a2140" stroke-width="1.2"/><path d="M1002 300 C1002 281 1008 272 1019 266 L1083 226 C1091 221 1100 221 1110 225 L1124 231 C1131 235 1134 242 1134 252 L1134 462 C1134 471 1130 477 1123 481 L1053 529 C1046 533 1036 533 1029 531 L1016 525 C1007 521 1002 515 1002 505 Z" fill="url(#bodyH)"/><path d="M1033 303 C1033 292 1038 286 1046 281 L1114 237 C1124 231 1133 237 1133 249 L1133 462 C1133 470 1129 475 1122 479 L1057 524 C1046 531 1033 526 1033 514 Z" fill="#0f2c4e"/><path d="M1037 303 C1037 293 1042 287 1050 282 L1114 240 C1122 235 1131 240 1131 250 L1131 461 C1131 468 1127 472 1121 476 L1057 520 C1047 527 1037 522 1037 512 Z" fill="#86abcb"/><path d="M1044 305 C1044 295 1048 290 1055 286 L1113 248 C1120 243 1127 246 1127 254 L1127 456 C1127 463 1124 467 1118 471 L1060 511 C1051 517 1044 513 1044 504 Z" fill="url(#glass3)" stroke="#1d4068" stroke-width="1.3"/><path d="M1114 247 L1126.3 247 L1126.3 456 L1114 465 Z" fill="#b3cbe0" opacity="0.55"/><path d="M1045 500 L1126.3 446 L1126.3 456 C1126.3 463 1124 467 1118 471 L1060 511 C1051 517 1045 513 1045 504 Z" fill="#9dbad3" opacity="0.7"/><path d="M1049 300 L1049 508" stroke="#ffffff" stroke-width="1.2" fill="none" opacity="0.7"/><path d="M1040 512 C1043 520 1050 522 1058 517 L1124 472" stroke="#e8f6ff" stroke-width="1.3" fill="none" opacity="0.9"/><text transform="translate(1017.6 396.8) scale(1.25 1)" x="0" y="0" font-size="12.8" fill="#a3dcb4" text-anchor="middle">90</text><line x1="1017.7" y1="409.6" x2="1017.7" y2="486" stroke="#5fae84" stroke-width="1.4"/><circle cx="1017.7" cy="493" r="1.6" fill="#7d9fb8" /><path d="M1046 343.9 H1152" stroke="#4fb4d0" stroke-width="2.4" fill="none" stroke-linecap="round" stroke-linejoin="round" /><path d="M1044 384 H1232" stroke="#4fb4d0" stroke-width="2.4" fill="none" stroke-linecap="round" stroke-linejoin="round" /><polygon points="1240.0,384.0 1230.0,379.0 1230.0,389.0" fill="#3fb9dc"/><path d="M1044 424.4 H1152" stroke="#4fb4d0" stroke-width="2.4" fill="none" stroke-linecap="round" stroke-linejoin="round" /><ellipse cx="1094" cy="355.40000000000003" rx="12.6" ry="4.2" fill="#5a8fb0" opacity="0.18" filter="url(#blur3)"/><polygon points="1094.0,328.8 1106.1,335.8 1094.0,342.8 1081.9,335.8" fill="#48d07a"/><polygon points="1081.9,335.8 1094.0,342.8 1094.0,356.8 1081.9,349.8" fill="#38ba64"/><polygon points="1094.0,342.8 1106.1,335.8 1106.1,349.8 1094.0,356.8" fill="#2ca056"/><polygon points="1094.0,328.8 1106.1,335.8 1106.1,349.8 1094.0,356.8 1081.9,349.8 1081.9,335.8" fill="none" stroke="#1d4a35" stroke-width="1.3" stroke-linejoin="round"/><ellipse cx="1131" cy="398.4" rx="14.4" ry="4.8" fill="#5a8fb0" opacity="0.18" filter="url(#blur3)"/><polygon points="1131.0,368.0 1144.9,376.0 1144.9,392.0 1131.0,400.0 1117.1,392.0 1117.1,376.0" fill="#40b862"/><polygon points="1131.0,368.0 1131.0,372.2 1120.0,390.9 1117.1,392.0 1117.1,376.0" fill="#5ccd74"/><polygon points="1131.0,368.0 1144.9,376.0 1144.9,392.0 1142.8,390.4 1131.0,372.2" fill="#36aa57"/><polygon points="1131.0,372.2 1142.8,390.4 1120.0,390.9" fill="#2a9a4b"/><polygon points="1131.0,368.0 1144.9,376.0 1144.9,392.0 1131.0,400.0 1117.1,392.0 1117.1,376.0" fill="none" stroke="#1d4a35" stroke-width="1.3" stroke-linejoin="round"/><circle cx="1082" cy="424.4" r="5.4" fill="#2ac4e0" stroke="#1f6f96" stroke-width="1.2" /><ellipse cx="1165.7" cy="354.85" rx="13.05" ry="4.35" fill="#5a8fb0" opacity="0.18" filter="url(#blur3)"/><polygon points="1165.7,327.3 1178.3,334.6 1165.7,341.8 1153.1,334.6" fill="#27dced"/><polygon points="1153.1,334.6 1165.7,341.8 1165.7,356.3 1153.1,349.1" fill="#21c4e1"/><polygon points="1165.7,341.8 1178.3,334.6 1178.3,349.1 1165.7,356.3" fill="#1cb0d6"/><polygon points="1165.7,327.3 1178.3,334.6 1178.3,349.1 1165.7,356.3 1153.1,349.1 1153.1,334.6" fill="none" stroke="#173b5c" stroke-width="1.3" stroke-linejoin="round"/><ellipse cx="1165.6" cy="439.05" rx="13.05" ry="4.35" fill="#5a8fb0" opacity="0.18" filter="url(#blur3)"/><polygon points="1165.6,411.5 1178.2,418.8 1165.6,426.0 1153.0,418.8" fill="#27dced"/><polygon points="1153.0,418.8 1165.6,426.0 1165.6,440.5 1153.0,433.2" fill="#21c4e1"/><polygon points="1165.6,426.0 1178.2,418.8 1178.2,433.2 1165.6,440.5" fill="#1cb0d6"/><polygon points="1165.6,411.5 1178.2,418.8 1178.2,433.2 1165.6,440.5 1153.0,433.2 1153.0,418.8" fill="none" stroke="#173b5c" stroke-width="1.3" stroke-linejoin="round"/><ellipse cx="1196.7" cy="398.4" rx="14.4" ry="4.8" fill="#5a8fb0" opacity="0.18" filter="url(#blur3)"/><polygon points="1196.7,368.0 1210.6,376.0 1196.7,384.0 1182.8,376.0" fill="#48d07a"/><polygon points="1182.8,376.0 1196.7,384.0 1196.7,400.0 1182.8,392.0" fill="#38ba64"/><polygon points="1196.7,384.0 1210.6,376.0 1210.6,392.0 1196.7,400.0" fill="#2ca056"/><polygon points="1196.7,368.0 1210.6,376.0 1210.6,392.0 1196.7,400.0 1182.8,392.0 1182.8,376.0" fill="none" stroke="#1d4a35" stroke-width="1.3" stroke-linejoin="round"/><path d="M1178.6 334 C1200 305 1215 298 1243 298.2" stroke="#5aae7c" stroke-width="2.4" fill="none" stroke-linecap="round" stroke-linejoin="round" /><polygon points="1251.0,298.2 1241.0,293.2 1241.0,303.2" fill="#5aae7c"/><path d="M1177 437.5 C1200 465 1215 474 1246 474" stroke="#5aae7c" stroke-width="2.4" fill="none" stroke-linecap="round" stroke-linejoin="round" /><polygon points="1255.0,474.0 1245.0,469.0 1245.0,479.0" fill="#5aae7c"/><path d="M1290.7 259.3 L1327.5 280.5 L1253.8 280.5 Z" fill="#3fb468" stroke="#2e9a55" stroke-width="1.4" stroke-linejoin="round"/><circle cx="1290.7" cy="273" r="3.6" fill="#e8f5ec"/><rect x="1253.8" y="280.5" width="73.7" height="4" fill="#2e9a55"/><rect x="1258" y="284.5" width="65" height="3.5" fill="#3fb468"/><rect x="1264" y="288" width="10" height="3" fill="#3fb468"/><rect x="1265" y="291" width="8" height="28" fill="#3fb468"/><rect x="1267" y="292" width="1.5" height="26" fill="#7fd79a"/><rect x="1264" y="319" width="10" height="3" fill="#3fb468"/><rect x="1285.7" y="288" width="10" height="3" fill="#3fb468"/><rect x="1286.7" y="291" width="8" height="28" fill="#3fb468"/><rect x="1288.7" y="292" width="1.5" height="26" fill="#7fd79a"/><rect x="1285.7" y="319" width="10" height="3" fill="#3fb468"/><rect x="1307" y="288" width="10" height="3" fill="#3fb468"/><rect x="1308" y="291" width="8" height="28" fill="#3fb468"/><rect x="1310" y="292" width="1.5" height="26" fill="#7fd79a"/><rect x="1307" y="319" width="10" height="3" fill="#3fb468"/><rect x="1257" y="323" width="67" height="5" fill="#3fb468"/><rect x="1252.7" y="329" width="75.3" height="7.3" fill="#3fb468"/><line x1="1257" y1="328.5" x2="1324" y2="328.5" stroke="#2e9a55" stroke-width="1"/><circle cx="1290" cy="476" r="26" fill="#4fd07a" opacity="0.45" filter="url(#blur6)"/><polygon points="1290.0,450.1 1311.2,462.4 1311.2,486.9 1290.0,499.1 1268.8,486.9 1268.8,462.4" fill="#36ab5b" stroke="#36ab5b" stroke-width="6" stroke-linejoin="round"/><path d="M1278 474.5 L1286.5 483 L1302.5 465.5" fill="none" stroke="#f4fff7" stroke-width="4" stroke-linecap="round" stroke-linejoin="round"/><text x="1290" y="376.8" font-size="13.88" fill="#15191f" stroke="#15191f" stroke-width="0.45" text-anchor="middle" >MERCHANT</text><text x="1290.3" y="392.7" font-size="13.89" fill="#15191f" stroke="#15191f" stroke-width="0.45" text-anchor="middle" >BANK</text><text x="1290.3" y="529" font-size="13.78" fill="#15191f" stroke="#15191f" stroke-width="0.45" text-anchor="middle" >CUSTOMER</text><text x="1290" y="545.8" font-size="13.92" fill="#15191f" stroke="#15191f" stroke-width="0.45" text-anchor="middle" >CONFIRMATION</text><text x="544.8" y="212" font-size="13.45" fill="#15191f" stroke="#15191f" stroke-width="0.45" text-anchor="middle" >RISKY ORDER</text><text x="544.8" y="228.6" font-size="13.92" fill="#15191f" stroke="#15191f" stroke-width="0.45" text-anchor="middle" >DETECTION</text><text x="779.9" y="136.6" font-size="13.74" fill="#15191f" stroke="#15191f" stroke-width="0.45" text-anchor="middle" >LAYER 2: RISK SCORING &</text><text x="780" y="153.1" font-size="14.2" fill="#15191f" stroke="#15191f" stroke-width="0.45" text-anchor="middle" >BEHAVIORAL ANALYSIS</text><text x="1078.9" y="173.9" font-size="13.67" fill="#15191f" stroke="#15191f" stroke-width="0.45" text-anchor="middle" >LAYER 3: SECURE</text><text x="1079.3" y="190.9" font-size="13.72" fill="#15191f" stroke="#15191f" stroke-width="0.45" text-anchor="middle" >TRANSACTION PROCESSING</text><text x="1078.5" y="207.6" font-size="13.79" fill="#15191f" stroke="#15191f" stroke-width="0.45" text-anchor="middle" >&amp; SETTLEMENT</text><text x="382.1" y="579.7" font-size="15.53" fill="#15191f" stroke="#15191f" stroke-width="0.45" text-anchor="middle" >LAYER 1:</text><text x="382.6" y="596.8" font-size="13.98" fill="#15191f" stroke="#15191f" stroke-width="0.45" text-anchor="middle" >DATA INGESTION &amp;</text><text x="382.5" y="613.7" font-size="13.99" fill="#15191f" stroke="#15191f" stroke-width="0.45" text-anchor="middle" >ANOMALY DETECTION</text><text x="775.2" y="612.4" font-size="16.48" fill="#15191f" stroke="#15191f" stroke-width="0.45" text-anchor="middle" >LAYER 2:</text><text x="775.2" y="630.5" font-size="13.41" fill="#15191f" stroke="#15191f" stroke-width="0.45" text-anchor="middle" >RISK SCORING &amp;</text><text x="775.2" y="647.1" font-size="14.02" fill="#15191f" stroke="#15191f" stroke-width="0.45" text-anchor="middle" >BEHAVIORAL ANALYSIS</text><text x="1067.4" y="579.5" font-size="16.4" fill="#15191f" stroke="#15191f" stroke-width="0.45" text-anchor="middle" >LAYER 3:</text><text x="1067.8" y="596.9" font-size="13.76" fill="#15191f" stroke="#15191f" stroke-width="0.45" text-anchor="middle" >SECURE TRANSACTION</text><text x="1067.9" y="613.6" font-size="13.48" fill="#15191f" stroke="#15191f" stroke-width="0.45" text-anchor="middle" >PROCESSING &amp; SETTLEMENT</text></svg></body></html>
